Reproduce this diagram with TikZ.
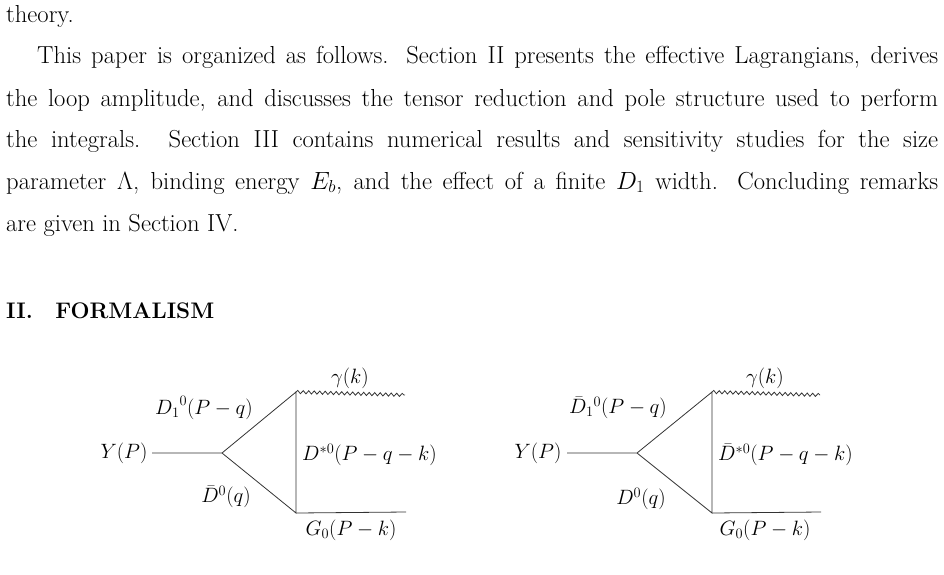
\documentclass[tikz,border=0pt]{standalone}
\usetikzlibrary{decorations.pathmorphing}
\begin{document}
\begin{tikzpicture}[x=1pt,y=-1pt,
  txt/.style={anchor=west,inner sep=0,font=\fontsize{24.6}{28}\selectfont},
  lab/.style={inner sep=0,font=\fontsize{20.3}{23}\selectfont},
  prop/.style={draw=black!80,line width=0.8pt},
  phot/.style={draw=black!80,line width=0.8pt,decorate,decoration={snake,segment length=5.5pt,amplitude=1.6pt}}]
\useasboundingbox (0,0) rectangle (944,574);
\node[txt] (l0) at (6,16) {theory.};
\node[txt] (l1) at (37,57) {\makebox[901pt][s]{This paper is organized as follows. Section II presents the effective Lagrangians, derives}};
\node[txt] (l2) at (6,100) {\makebox[932pt][s]{the loop amplitude, and discusses the tensor reduction and pole structure used to perform}};
\node[txt] (l3) at (6,141) {\makebox[932pt][s]{the integrals. Section III contains numerical results and sensitivity studies for the size}};
\node[txt] (l4) at (6,183) {\makebox[932pt][s]{parameter $\Lambda$, binding energy $E_b$, and the effect of a finite $D_1$ width. Concluding remarks}};
\node[txt] (l5) at (6,225) {are given in Section IV.};
\node[txt,font=\fontsize{22.5}{26}\selectfont\bfseries] (sec) at (6,311) {II.\quad FORMALISM};
% diagram 1
\coordinate (a1) at (152,453); \coordinate (v1) at (222,453);
\coordinate (u1) at (296,392); \coordinate (d1) at (296,513);
\coordinate (g1) at (405,395); \coordinate (o1) at (406,512);
\draw[prop] (a1) -- (v1) -- (u1) -- (d1) -- (v1);
\draw[prop] (d1) -- (o1);
\draw[phot] (u1) -- (g1);
\node[lab] (y1) at (124,453) {$Y(P)$};
\node[lab] (gk1) at (350,378) {$\gamma(k)$};
\node[lab] (dp1) at (204,408) {${D_1}^0(P-q)$};
\node[lab,anchor=west] (ds1) at (302,455) {$D^{*0}(P-q-k)$};
\node[lab] (db1) at (226,497) {$\bar D^0(q)$};
\node[lab] (go1) at (351,530) {$G_0(P-k)$};
% diagram 2
\coordinate (a2) at (567,453); \coordinate (v2) at (637,453);
\coordinate (u2) at (712,392); \coordinate (d2) at (712,513);
\coordinate (g2) at (820,395); \coordinate (o2) at (821,512);
\draw[prop] (a2) -- (v2) -- (u2) -- (d2) -- (v2);
\draw[prop] (d2) -- (o2);
\draw[phot] (u2) -- (g2);
\node[lab] (y2) at (538,453) {$Y(P)$};
\node[lab] (gk2) at (765,378) {$\gamma(k)$};
\node[lab] (dp2) at (618,408) {${\bar D_1}{}^0(P-q)$};
\node[lab,anchor=west] (ds2) at (718,455) {$\bar D^{*0}(P-q-k)$};
\node[lab] (db2) at (641,499) {$D^0(q)$};
\node[lab] (go2) at (765,530) {$G_0(P-k)$};
\end{tikzpicture}
\end{document}
